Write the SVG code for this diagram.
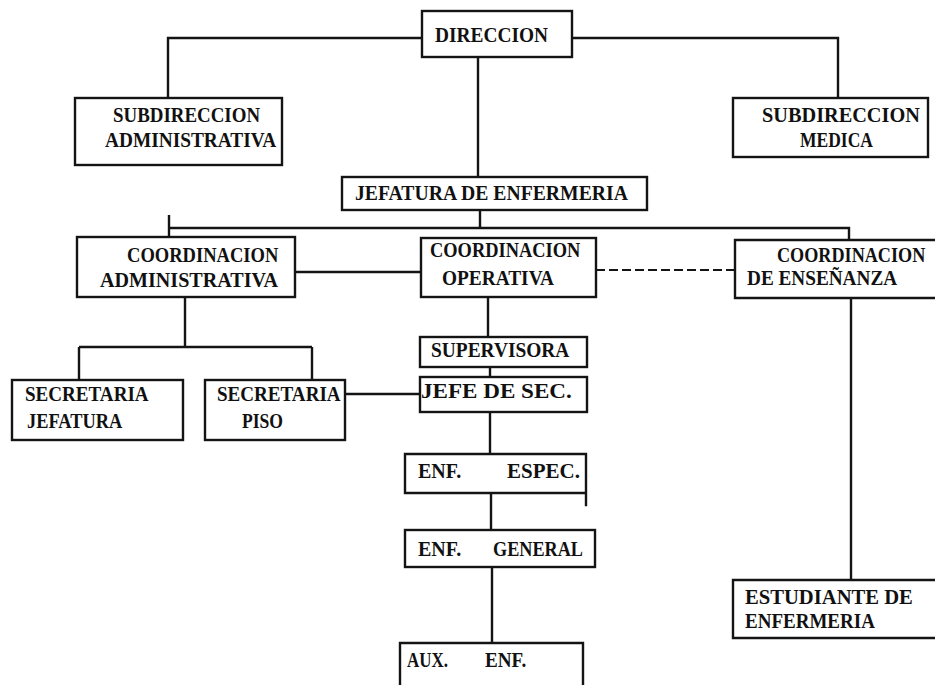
<svg xmlns="http://www.w3.org/2000/svg" width="935" height="685" viewBox="0 0 935 685">
<style>
.b{fill:none;stroke:#141414;stroke-width:2.4;stroke-linecap:square}
.c{fill:none;stroke:#141414;stroke-width:2.4}
.d{fill:none;stroke:#141414;stroke-width:2;stroke-dasharray:9 4}
.t{font-family:"Liberation Serif",serif;font-size:22px;font-weight:bold;fill:#111}
</style>
<rect width="935" height="685" fill="#fff"/>
<g id="connectors">
<path class="c" d="M422,38 H168 V98"/>
<path class="c" d="M572,38 H838 V98"/>
<path class="c" d="M478,57 V177"/>
<path class="c" d="M480,210 V228"/>
<path class="c" d="M169,228 H849 V240"/>
<path class="c" d="M169,215 V236"/>
<path class="c" d="M295,272 H421"/>
<path class="d" d="M596,270 H735"/>
<path class="c" d="M488,297 V337"/>
<path class="c" d="M490,367 V377"/>
<path class="c" d="M490,412 V454"/>
<path class="c" d="M491,493 V530"/>
<path class="c" d="M492,567 V643"/>
<path class="c" d="M185,297 V347 M79,347 H312 M79,347 V380 M312,347 V380"/>
<path class="c" d="M345,394 H420"/>
<path class="c" d="M851,298 V580"/>
</g>
<g id="direccion"><rect class="b" x="422" y="11" width="150" height="46"/><text class="t" transform="matrix(0.881,0,0,1,435,42)">DIRECCION</text></g>
<g id="subdireccion-administrativa"><rect class="b" x="75" y="98" width="207" height="67"/><text class="t" transform="matrix(0.860,0,0,1,113,122)">SUBDIRECCION</text><text class="t" transform="matrix(0.879,0,0,1,105,147)">ADMINISTRATIVA</text></g>
<g id="subdireccion-medica"><rect class="b" x="733" y="98" width="195" height="59"/><text class="t" transform="matrix(0.923,0,0,1,762,122)">SUBDIRECCION</text><text class="t" transform="matrix(0.796,0,0,1,800,147)">MEDICA</text></g>
<g id="jefatura"><rect class="b" x="342" y="177" width="305" height="33"/><text class="t" transform="matrix(0.896,0,0,1,355,200)">JEFATURA DE ENFERMERIA</text></g>
<g id="coord-administrativa"><rect class="b" x="77" y="237" width="218" height="60"/><text class="t" transform="matrix(0.843,0,0,1,127,262)">COORDINACION</text><text class="t" transform="matrix(0.914,0,0,1,100,287)">ADMINISTRATIVA</text></g>
<g id="coord-operativa"><rect class="b" x="421" y="238" width="175" height="59"/><text class="t" transform="matrix(0.837,0,0,1,430,257)">COORDINACION</text><text class="t" transform="matrix(0.879,0,0,1,442,285)">OPERATIVA</text></g>
<g id="coord-ensenanza"><path class="b" d="M935,240 H735 V298 H935"/><text class="t" transform="matrix(0.826,0,0,1,777,262)">COORDINACION</text><text class="t" transform="matrix(0.874,0,0,1,747,285)">DE ENSEÑANZA</text></g>
<g id="secretaria-jefatura"><rect class="b" x="12" y="380" width="171" height="60"/><text class="t" transform="matrix(0.867,0,0,1,25,401)">SECRETARIA</text><text class="t" transform="matrix(0.835,0,0,1,27,428)">JEFATURA</text></g>
<g id="secretaria-piso"><rect class="b" x="205" y="380" width="140" height="60"/><text class="t" transform="matrix(0.867,0,0,1,217,401)">SECRETARIA</text><text class="t" transform="matrix(0.80,0,0,1,242,428)">PISO</text></g>
<g id="supervisora"><rect class="b" x="420" y="337" width="167" height="30"/><text class="t" transform="matrix(0.882,0,0,1,431,357)">SUPERVISORA</text></g>
<g id="jefe-de-sec"><rect class="b" x="420" y="377" width="167" height="35"/><text class="t" transform="matrix(1.05,0,0,1,421,398)">JEFE DE SEC.</text></g>
<g id="enf-espec"><path class="b" d="M405,454 H586 V505 M586,493 H405 V454"/><text class="t" transform="matrix(0.91,0,0,1,418,478)">ENF.</text><text class="t" transform="matrix(0.955,0,0,1,507,478)">ESPEC.</text></g>
<g id="enf-general"><rect class="b" x="405" y="530" width="190" height="37"/><text class="t" transform="matrix(0.91,0,0,1,418,556)">ENF.</text><text class="t" transform="matrix(0.827,0,0,1,493,556)">GENERAL</text></g>
<g id="aux-enf"><path class="b" d="M400,685 V643 H583 V685"/><text class="t" transform="matrix(0.77,0,0,1,407,667)">AUX.</text><text class="t" transform="matrix(0.87,0,0,1,485,667)">ENF.</text></g>
<g id="estudiante"><path class="b" d="M935,580 H733 V638 H935"/><text class="t" transform="matrix(0.938,0,0,1,745,604)">ESTUDIANTE DE</text><text class="t" transform="matrix(0.865,0,0,1,745,628)">ENFERMERIA</text></g>
</svg>
